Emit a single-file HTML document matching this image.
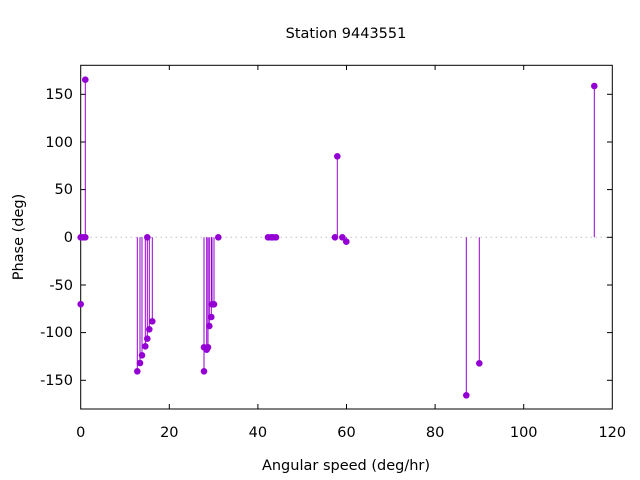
<!DOCTYPE html>
<html><head><meta charset="utf-8"><style>body{margin:0;background:#fff}svg{display:block}text{font-family:"DejaVu Sans","Liberation Sans",sans-serif;font-size:14.5px;fill:#000}</style></head><body>
<svg width="640" height="480" viewBox="0 0 640 480">
<text x="346" y="38" text-anchor="middle">Station 9443551</text>
<text x="346" y="470" text-anchor="middle">Angular speed (deg/hr)</text>
<text transform="translate(23,237) rotate(-90)" text-anchor="middle">Phase (deg)</text>
<line x1="80.7" y1="237.3" x2="612.3" y2="237.3" stroke="#a0a0a0" stroke-width="1" stroke-dasharray="1,4"/>
<g stroke="#000" stroke-width="1">
<line x1="80.7" y1="94.3" x2="86" y2="94.3"/><line x1="612.3" y1="94.3" x2="607" y2="94.3"/>
<line x1="80.7" y1="142" x2="86" y2="142"/><line x1="612.3" y1="142" x2="607" y2="142"/>
<line x1="80.7" y1="189.6" x2="86" y2="189.6"/><line x1="612.3" y1="189.6" x2="607" y2="189.6"/>
<line x1="80.7" y1="237.3" x2="86" y2="237.3"/><line x1="612.3" y1="237.3" x2="607" y2="237.3"/>
<line x1="80.7" y1="285" x2="86" y2="285"/><line x1="612.3" y1="285" x2="607" y2="285"/>
<line x1="80.7" y1="332.6" x2="86" y2="332.6"/><line x1="612.3" y1="332.6" x2="607" y2="332.6"/>
<line x1="80.7" y1="380.3" x2="86" y2="380.3"/><line x1="612.3" y1="380.3" x2="607" y2="380.3"/>
<line x1="169.3" y1="409" x2="169.3" y2="404"/><line x1="169.3" y1="65.3" x2="169.3" y2="70"/>
<line x1="257.9" y1="409" x2="257.9" y2="404"/><line x1="257.9" y1="65.3" x2="257.9" y2="70"/>
<line x1="346.5" y1="409" x2="346.5" y2="404"/><line x1="346.5" y1="65.3" x2="346.5" y2="70"/>
<line x1="435.1" y1="409" x2="435.1" y2="404"/><line x1="435.1" y1="65.3" x2="435.1" y2="70"/>
<line x1="523.7" y1="409" x2="523.7" y2="404"/><line x1="523.7" y1="65.3" x2="523.7" y2="70"/>
<rect x="80.7" y="65.3" width="531.6" height="343.7" fill="none"/>
</g>
<g text-anchor="end">
<text x="73" y="99">150</text><text x="73" y="147">100</text><text x="73" y="194">50</text><text x="73" y="242">0</text>
<text x="73" y="290">-50</text><text x="73" y="337">-100</text><text x="73" y="385">-150</text>
</g>
<g text-anchor="middle">
<text x="80.7" y="437">0</text><text x="169.3" y="437">20</text><text x="257.9" y="437">40</text><text x="346.5" y="437">60</text>
<text x="435.1" y="437">80</text><text x="523.7" y="437">100</text><text x="612.3" y="437">120</text>
</g>
<g stroke="#9400d3" stroke-width="1">
<line x1="85.3" y1="237.3" x2="85.3" y2="79.7"/>
<line x1="137.3" y1="237.3" x2="137.3" y2="371.3"/><line x1="140" y1="237.3" x2="140" y2="363"/>
<line x1="142" y1="237.3" x2="142" y2="355.3"/><line x1="145.3" y1="237.3" x2="145.3" y2="346.3"/>
<line x1="147.3" y1="237.3" x2="147.3" y2="338.7"/><line x1="149.3" y1="237.3" x2="149.3" y2="329.3"/>
<line x1="152.3" y1="237.3" x2="152.3" y2="321.3"/>
<line x1="204" y1="237.3" x2="204" y2="371.3"/><line x1="206.7" y1="237.3" x2="206.7" y2="349.7"/>
<line x1="208" y1="237.3" x2="208" y2="347.3"/><line x1="209.3" y1="237.3" x2="209.3" y2="326"/>
<line x1="211.3" y1="237.3" x2="211.3" y2="317"/><line x1="212" y1="237.3" x2="212" y2="304.3"/>
<line x1="214" y1="237.3" x2="214" y2="304.3"/>
<line x1="337.3" y1="237.3" x2="337.3" y2="156.3"/><line x1="346.3" y1="237.3" x2="346.3" y2="241.7"/>
<line x1="466.3" y1="237.3" x2="466.3" y2="395.3"/><line x1="479.3" y1="237.3" x2="479.3" y2="363.3"/>
<line x1="594.3" y1="237.3" x2="594.3" y2="86"/>
</g>
<g fill="#9400d3">
<circle cx="80.7" cy="237.3" r="3.3"/><circle cx="80.7" cy="304.2" r="3.3"/><circle cx="83" cy="237.3" r="3.3"/><circle cx="85.3" cy="237.3" r="3.3"/><circle cx="85.3" cy="79.7" r="3.3"/>
<circle cx="137.3" cy="371.3" r="3.3"/><circle cx="140" cy="363" r="3.3"/><circle cx="142" cy="355.3" r="3.3"/><circle cx="145.3" cy="346.3" r="3.3"/><circle cx="147.3" cy="338.7" r="3.3"/><circle cx="147.3" cy="237.3" r="3.3"/><circle cx="149.3" cy="329.3" r="3.3"/><circle cx="152.3" cy="321.3" r="3.3"/>
<circle cx="204" cy="371.3" r="3.3"/><circle cx="204" cy="347.3" r="3.3"/><circle cx="206.7" cy="349.7" r="3.3"/><circle cx="208" cy="347.3" r="3.3"/><circle cx="209.3" cy="326" r="3.3"/><circle cx="211.3" cy="317" r="3.3"/><circle cx="212" cy="304.3" r="3.3"/><circle cx="214" cy="304.3" r="3.3"/><circle cx="218.3" cy="237.3" r="3.3"/>
<circle cx="268" cy="237.3" r="3.3"/><circle cx="271" cy="237.3" r="3.3"/><circle cx="273" cy="237.3" r="3.3"/><circle cx="276" cy="237.3" r="3.3"/>
<circle cx="335" cy="237.3" r="3.3"/><circle cx="337.3" cy="156.3" r="3.3"/><circle cx="342.3" cy="237.3" r="3.3"/><circle cx="346.3" cy="241.7" r="3.3"/>
<circle cx="466.3" cy="395.3" r="3.3"/><circle cx="479.3" cy="363.3" r="3.3"/><circle cx="594.3" cy="86" r="3.3"/>
</g>
</svg>
</body></html>
